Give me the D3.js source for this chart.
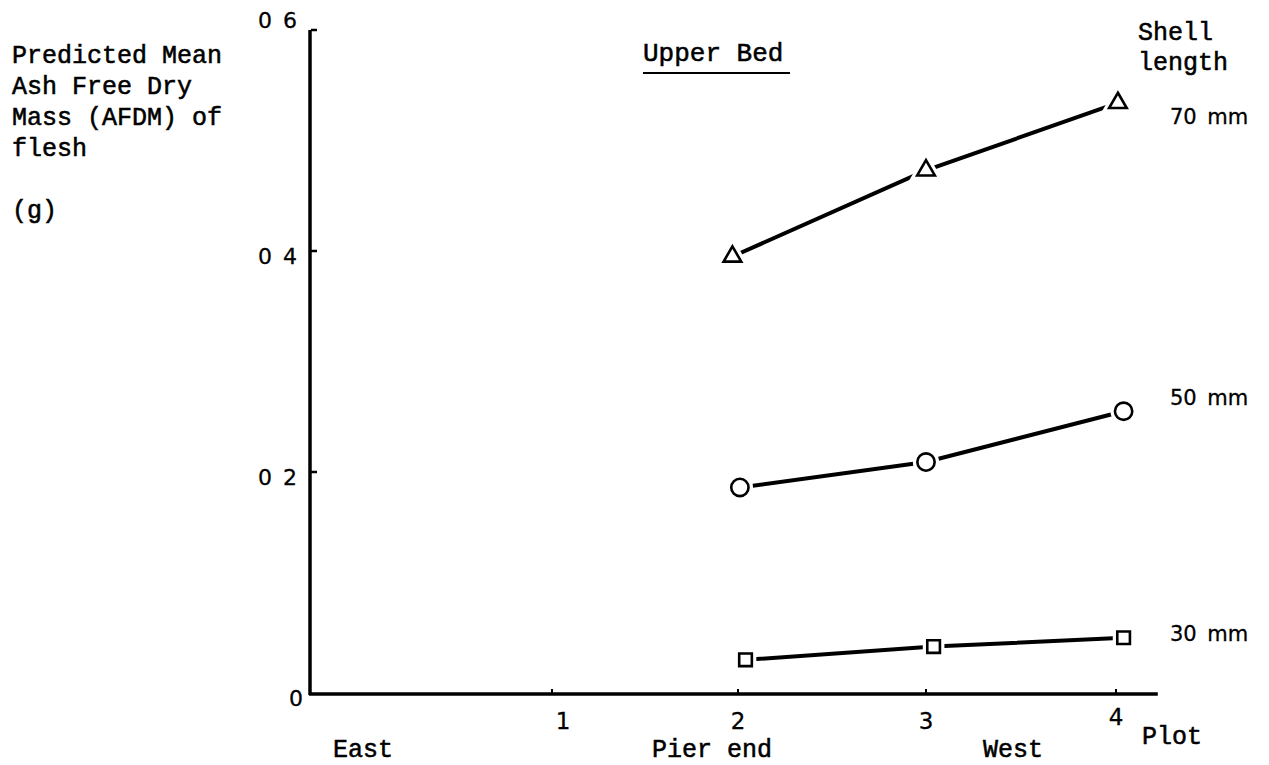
<!DOCTYPE html>
<html>
<head>
<meta charset="utf-8">
<script src="https://cdn.jsdelivr.net/npm/d3@7/dist/d3.min.js"></script>
<style>
  html, body { margin: 0; padding: 0; background: #fff; }
  svg { display: block; }
  text { font-family: "Liberation Mono", "DejaVu Sans Mono", monospace; fill: #000; stroke: #000; stroke-width: 0.55px; }
  text.num { font-family: "DejaVu Sans", "Liberation Sans", sans-serif; stroke-width: 0.3px; }
</style>
</head>
<body>
<svg id="chart" width="1269" height="765"></svg>
<script>
// ---- data ----
const plotTicks = [1, 2, 3, 4];
const plotTickLabels = ["1", "2", "3", "4"];
const yTicks = [0, 0.2, 0.4, 0.6];
const yTickLabels = ["0", "0 2", "0 4", "0 6"];
const seriesNames = ["70 mm", "50 mm", "30 mm"];
const seriesShapes = ["triangle", "circle", "square"];
const len70Plot = [1.97, 3.00, 4.01];
const len70Mass = [0.395, 0.473, 0.534];
const len50Plot = [2.01, 3.00, 4.04];
const len50Mass = [0.186, 0.209, 0.255];
const len30Plot = [2.04, 3.04, 4.04];
const len30Mass = [0.030, 0.042, 0.050];
const yTitleLines = ["Predicted Mean", "Ash Free Dry", "Mass (AFDM) of", "flesh", "", "(g)"];
const siteLabels = ["East", "Pier end", "West"];

const series = [
  { name: seriesNames[0], shape: seriesShapes[0], pts: len70Plot.map((p, i) => [p, len70Mass[i]]) },
  { name: seriesNames[1], shape: seriesShapes[1], pts: len50Plot.map((p, i) => [p, len50Mass[i]]) },
  { name: seriesNames[2], shape: seriesShapes[2], pts: len30Plot.map((p, i) => [p, len30Mass[i]]) }
];

// ---- layout ----
const svg = d3.select("#chart");
const x = d3.scaleLinear().domain([0, 1, 2, 3, 4]).range([311, 552, 738, 926, 1116]);
const y = d3.scaleLinear().domain([0, 0.6]).range([693, 30]);
const xAxisEnd = 4.22;

// axes lines
svg.append("line").attr("x1", x(0) - 1).attr("x2", x(0) - 1)
  .attr("y1", y(0.6)).attr("y2", y(0) + 2)
  .attr("stroke", "#000").attr("stroke-width", 3.5);
svg.append("line").attr("x1", x(0) - 2).attr("x2", x(xAxisEnd))
  .attr("y1", y(0) + 1).attr("y2", y(0) + 1)
  .attr("stroke", "#000").attr("stroke-width", 3.5);

// y ticks (inward)
const gy = svg.append("g");
gy.selectAll("line.yt").data(yTicks.filter(d => d > 0)).join("line")
  .attr("x1", x(0)).attr("x2", x(0) + 6)
  .attr("y1", d => y(d)).attr("y2", d => y(d))
  .attr("stroke", "#000").attr("stroke-width", 2.5);
gy.selectAll("text").data(yTicks).join("text")
  .attr("class", "num")
  .attr("x", d => d === 0 ? 303 : 297)
  .attr("y", d => y(d) + (d === 0.6 ? -2 : 13))
  .attr("text-anchor", "end")
  .attr("font-size", 22)
  .attr("xml:space", "preserve")
  .text((d, i) => yTickLabels[i].replace(" ", "\u2002"));

// x ticks
const gx = svg.append("g");
gx.selectAll("line").data(plotTicks).join("line")
  .attr("x1", d => x(d)).attr("x2", d => x(d))
  .attr("y1", y(0) + 1).attr("y2", y(0) - 4)
  .attr("stroke", "#000").attr("stroke-width", 2);
gx.selectAll("text").data(plotTicks).join("text")
  .attr("class", "num")
  .attr("x", d => x(d) + (d === 1 ? 11 : 0))
  .attr("y", d => y(0) + (d === 4 ? 32 : 36))
  .attr("text-anchor", "middle")
  .attr("font-size", 23)
  .text((d, i) => plotTickLabels[i]);

svg.append("text").attr("x", 1142).attr("y", 744).attr("font-size", 25).text("Plot");
svg.selectAll("text.site").data(siteLabels).join("text")
  .attr("class", "site")
  .attr("x", (d, i) => [333, 652, 983][i])
  .attr("y", 757)
  .attr("font-size", 25)
  .text(d => d);

// y title
svg.append("g").selectAll("text").data(yTitleLines).join("text")
  .attr("x", 12)
  .attr("y", (d, i) => 63 + i * 31)
  .attr("font-size", 25)
  .text(d => d);

// Upper Bed
svg.append("text").attr("x", 643).attr("y", 61).attr("font-size", 26).text("Upper Bed");
svg.append("line").attr("x1", 643).attr("x2", 790).attr("y1", 73).attr("y2", 73)
  .attr("stroke", "#000").attr("stroke-width", 2);

// legend header
svg.append("text").attr("x", 1138).attr("y", 40).attr("font-size", 25).text("Shell");
svg.append("text").attr("x", 1138).attr("y", 70).attr("font-size", 25).text("length");

// series lines
const line = d3.line().x(d => x(d[0])).y(d => y(d[1]));
const gs = svg.append("g");
gs.selectAll("path.ln").data(series).join("path")
  .attr("class", "ln")
  .attr("d", d => line(d.pts))
  .attr("fill", "none").attr("stroke", "#000").attr("stroke-width", 4);

const symType = { triangle: d3.symbolTriangle, circle: d3.symbolCircle, square: d3.symbolSquare };
const symSize = { triangle: 135, circle: 235, square: 160 };
series.forEach(s => {
  const sym = d3.symbol().type(symType[s.shape]).size(symSize[s.shape]);
  const g = gs.append("g");
  // white halo to create gap between line and marker
  g.selectAll("path.halo").data(s.pts).join("path")
    .attr("class", "halo")
    .attr("transform", d => `translate(${x(d[0])},${y(d[1])})`)
    .attr("d", sym())
    .attr("fill", "#fff").attr("stroke", "#fff").attr("stroke-width", 9);
  g.selectAll("path.mk").data(s.pts).join("path")
    .attr("class", "mk")
    .attr("transform", d => `translate(${x(d[0])},${y(d[1])})`)
    .attr("d", sym())
    .attr("fill", "#fff").attr("stroke", "#000").attr("stroke-width", 2.6);
});

// series labels
const labelDy = [14, -13, -4];
gs.selectAll("text.lab").data(series).join("text")
  .attr("class", "lab num")
  .attr("x", 1170)
  .attr("y", (d, i) => y(d.pts[d.pts.length - 1][1]) + labelDy[i] + 7)
  .attr("font-size", 21)
  .attr("xml:space", "preserve")
  .text(d => d.name.replace(" ", "\u2002"));
</script>
</body>
</html>
